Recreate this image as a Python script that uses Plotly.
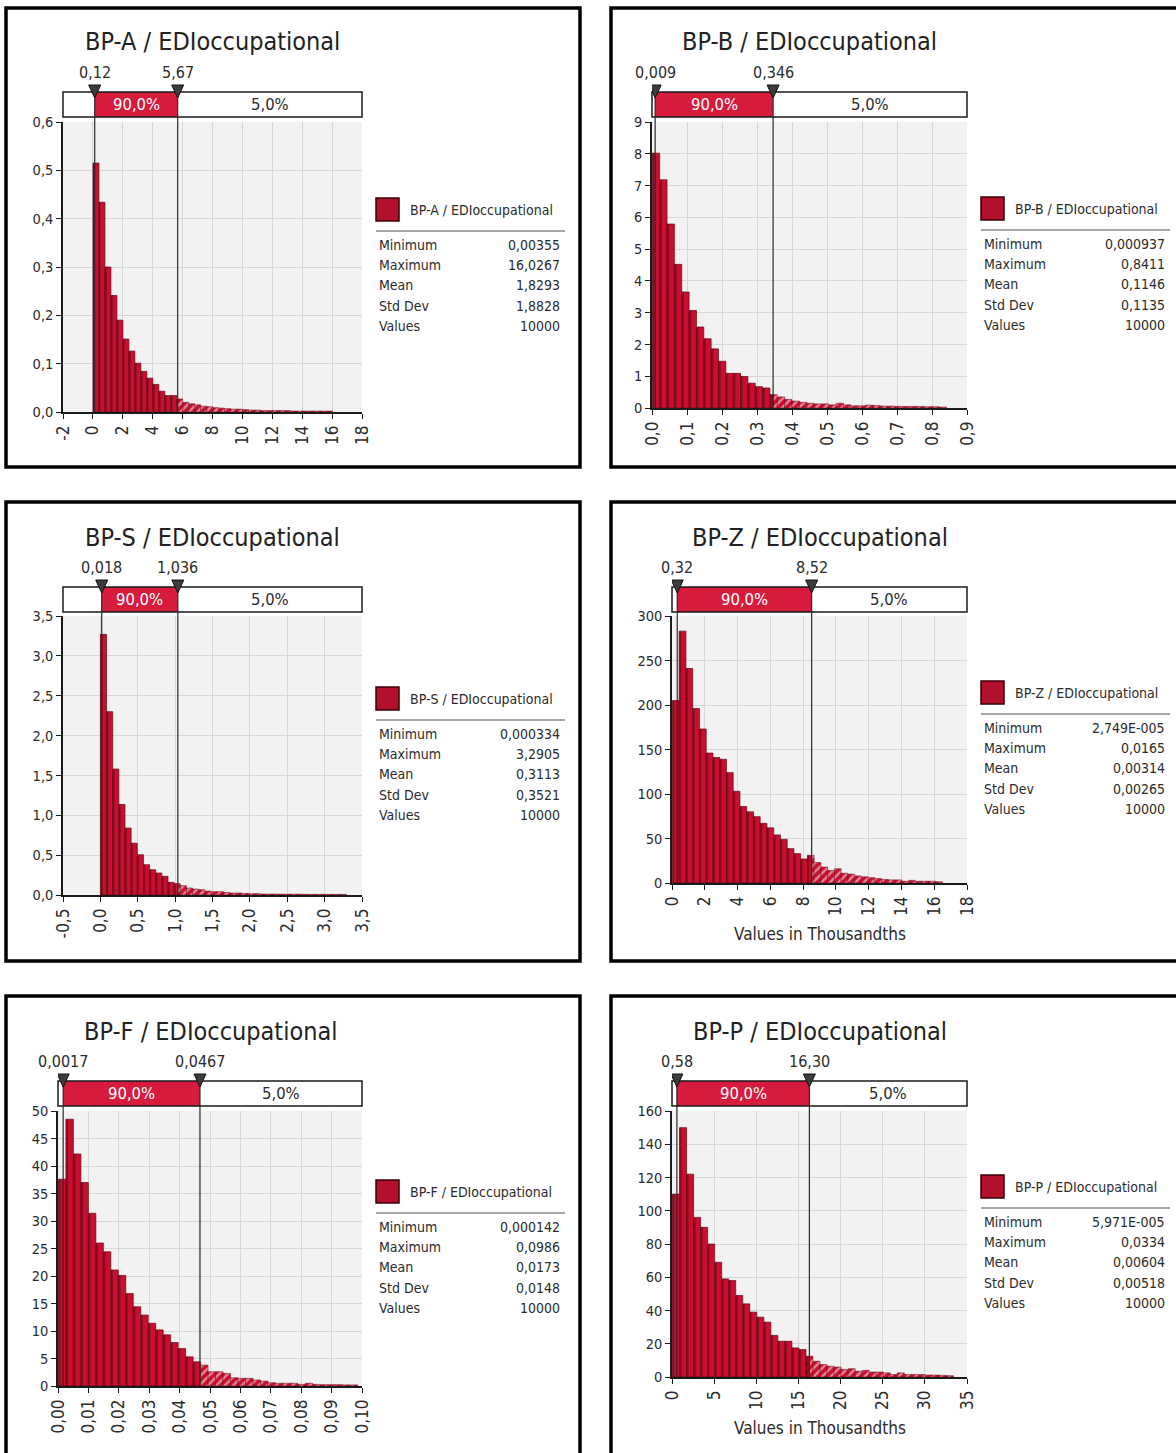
import plotly.graph_objects as go

W, H = 1176, 1453
FONT = "DejaVu Sans Condensed, DejaVu Sans, sans-serif"

# ---------------- data ----------------
series_names = ["BP-A / EDIoccupational", "BP-B / EDIoccupational", "BP-S / EDIoccupational",
                "BP-Z / EDIoccupational", "BP-F / EDIoccupational", "BP-P / EDIoccupational"]

stat_names = ["Minimum", "Maximum", "Mean", "Std Dev", "Values"]

# histogram definition: first bin edge, bin width, bar heights (density)
a_start, a_width = 0.00355, 0.40058
a_heights = [0.515, 0.434, 0.300, 0.241, 0.190, 0.151, 0.126, 0.101, 0.084, 0.070,
             0.057, 0.043, 0.034, 0.034, 0.027, 0.020, 0.017, 0.015, 0.012, 0.011,
             0.009, 0.008, 0.007, 0.006, 0.006, 0.005, 0.004, 0.004, 0.003, 0.003,
             0.003, 0.003, 0.003, 0.002, 0.002, 0.002, 0.002, 0.002, 0.002, 0.002]
a_bounds = [0.12, 5.67]
a_bound_labels = ["0,12", "5,67"]
a_stats = ["0,00355", "16,0267", "1,8293", "1,8828", "10000"]
a_xticks = [-2, 0, 2, 4, 6, 8, 10, 12, 14, 16, 18]
a_xlabels = ["-2", "0", "2", "4", "6", "8", "10", "12", "14", "16", "18"]
a_yticks = [0, 0.1, 0.2, 0.3, 0.4, 0.5, 0.6]
a_ylabels = ["0,0", "0,1", "0,2", "0,3", "0,4", "0,5", "0,6"]

b_start, b_width = 0.000937, 0.021004
b_heights = [8.02, 7.18, 5.79, 4.52, 3.65, 3.07, 2.55, 2.18, 1.86, 1.47,
             1.09, 1.09, 0.99, 0.78, 0.67, 0.63, 0.42, 0.35, 0.27, 0.22,
             0.18, 0.15, 0.13, 0.13, 0.10, 0.15, 0.10, 0.07, 0.07, 0.09,
             0.08, 0.06, 0.06, 0.05, 0.05, 0.05, 0.05, 0.04, 0.04, 0.03]
b_bounds = [0.009, 0.346]
b_bound_labels = ["0,009", "0,346"]
b_stats = ["0,000937", "0,8411", "0,1146", "0,1135", "10000"]
b_xticks = [0, 0.1, 0.2, 0.3, 0.4, 0.5, 0.6, 0.7, 0.8, 0.9]
b_xlabels = ["0,0", "0,1", "0,2", "0,3", "0,4", "0,5", "0,6", "0,7", "0,8", "0,9"]
b_yticks = [0, 1, 2, 3, 4, 5, 6, 7, 8, 9]
b_ylabels = ["0", "1", "2", "3", "4", "5", "6", "7", "8", "9"]

s_start, s_width = 0.000334, 0.082254
s_heights = [3.27, 2.30, 1.58, 1.136, 0.84, 0.65, 0.505, 0.38, 0.317, 0.276,
             0.234, 0.159, 0.142, 0.117, 0.088, 0.075, 0.067, 0.050, 0.042, 0.042,
             0.033, 0.025, 0.025, 0.020, 0.017, 0.017, 0.012, 0.012, 0.012, 0.010,
             0.010, 0.010, 0.010, 0.008, 0.008, 0.008, 0.008, 0.008, 0.008, 0.008]
s_bounds = [0.018, 1.036]
s_bound_labels = ["0,018", "1,036"]
s_stats = ["0,000334", "3,2905", "0,3113", "0,3521", "10000"]
s_xticks = [-0.5, 0, 0.5, 1, 1.5, 2, 2.5, 3, 3.5]
s_xlabels = ["-0,5", "0,0", "0,5", "1,0", "1,5", "2,0", "2,5", "3,0", "3,5"]
s_yticks = [0, 0.5, 1, 1.5, 2, 2.5, 3, 3.5]
s_ylabels = ["0,0", "0,5", "1,0", "1,5", "2,0", "2,5", "3,0", "3,5"]

# BP-Z and BP-P are plotted in thousandths
z_start, z_width = 0.02749, 0.41181
z_heights = [205, 283, 241, 196, 173, 146, 141, 139, 124, 103,
             86, 80, 74.5, 67, 62, 54, 49, 38.6, 33, 27,
             31, 23, 18, 14, 16, 11, 10, 8, 7, 6,
             5, 4, 3.5, 3.5, 2, 3, 2, 2, 2, 1.5]
z_bounds = [0.32, 8.52]
z_bound_labels = ["0,32", "8,52"]
z_stats = ["2,749E-005", "0,0165", "0,00314", "0,00265", "10000"]
z_xticks = [0, 2, 4, 6, 8, 10, 12, 14, 16, 18]
z_xlabels = ["0", "2", "4", "6", "8", "10", "12", "14", "16", "18"]
z_yticks = [0, 50, 100, 150, 200, 250, 300]
z_ylabels = ["0", "50", "100", "150", "200", "250", "300"]

f_start, f_width = 0.000142, 0.0024615
f_heights = [37.6, 48.5, 42.2, 37.0, 31.4, 26.0, 24.4, 21.1, 20.1, 16.8,
             14.4, 12.9, 11.4, 10.2, 9.3, 7.9, 6.8, 5.3, 4.4, 3.8,
             2.6, 2.6, 2.3, 1.5, 1.4, 1.4, 1.1, 0.9, 0.6, 0.5,
             0.5, 0.5, 0.3, 0.5, 0.3, 0.25, 0.25, 0.25, 0.2, 0.2]
f_bounds = [0.0017, 0.0467]
f_bound_labels = ["0,0017", "0,0467"]
f_stats = ["0,000142", "0,0986", "0,0173", "0,0148", "10000"]
f_xticks = [0, 0.01, 0.02, 0.03, 0.04, 0.05, 0.06, 0.07, 0.08, 0.09, 0.10]
f_xlabels = ["0,00", "0,01", "0,02", "0,03", "0,04", "0,05", "0,06", "0,07", "0,08", "0,09", "0,10"]
f_yticks = [0, 5, 10, 15, 20, 25, 30, 35, 40, 45, 50]
f_ylabels = ["0", "5", "10", "15", "20", "25", "30", "35", "40", "45", "50"]

p_start, p_width = 0.05971, 0.83351
p_heights = [110, 150, 122, 96, 90, 80, 69, 59, 58, 49,
             44, 39, 36, 33, 25, 21.5, 21.5, 17.5, 16.5, 12.5,
             9.5, 7.5, 6.5, 6, 4.5, 5, 3.5, 4, 3, 3,
             2.5, 1.5, 2.5, 1.5, 1.5, 1.5, 1.2, 1.2, 1, 0.8]
p_bounds = [0.58, 16.30]
p_bound_labels = ["0,58", "16,30"]
p_stats = ["5,971E-005", "0,0334", "0,00604", "0,00518", "10000"]
p_xticks = [0, 5, 10, 15, 20, 25, 30, 35]
p_xlabels = ["0", "5", "10", "15", "20", "25", "30", "35"]
p_yticks = [0, 20, 40, 60, 80, 100, 120, 140, 160]
p_ylabels = ["0", "20", "40", "60", "80", "100", "120", "140", "160"]

interval_labels = ["90,0%", "5,0%"]
axis_unit_title = "Values in Thousandths"

# ---------------- panel setup ----------------
panels = [
    dict(start=a_start, width=a_width, heights=a_heights, bounds=a_bounds, blabels=a_bound_labels,
         stats=a_stats, xt=a_xticks, xl=a_xlabels, yt=a_yticks, yl=a_ylabels, xr=[-2, 18], yr=[0, 0.6]),
    dict(start=b_start, width=b_width, heights=b_heights, bounds=b_bounds, blabels=b_bound_labels,
         stats=b_stats, xt=b_xticks, xl=b_xlabels, yt=b_yticks, yl=b_ylabels, xr=[0, 0.9], yr=[0, 9]),
    dict(start=s_start, width=s_width, heights=s_heights, bounds=s_bounds, blabels=s_bound_labels,
         stats=s_stats, xt=s_xticks, xl=s_xlabels, yt=s_yticks, yl=s_ylabels, xr=[-0.5, 3.5], yr=[0, 3.5]),
    dict(start=z_start, width=z_width, heights=z_heights, bounds=z_bounds, blabels=z_bound_labels,
         stats=z_stats, xt=z_xticks, xl=z_xlabels, yt=z_yticks, yl=z_ylabels, xr=[0, 18], yr=[0, 300]),
    dict(start=f_start, width=f_width, heights=f_heights, bounds=f_bounds, blabels=f_bound_labels,
         stats=f_stats, xt=f_xticks, xl=f_xlabels, yt=f_yticks, yl=f_ylabels, xr=[0, 0.1], yr=[0, 50]),
    dict(start=p_start, width=p_width, heights=p_heights, bounds=p_bounds, blabels=p_bound_labels,
         stats=p_stats, xt=p_xticks, xl=p_xlabels, yt=p_yticks, yl=p_ylabels, xr=[0, 35], yr=[0, 160]),
]

# pixel layout of each panel: frame box, plot area, interval bar rows, title row, legend top
geom = [
    dict(frame=(6, 8, 580, 467), plot=(63, 122, 362, 412), bar=(92, 117), title=42, leg=198, lx=376, unit=None),
    dict(frame=(611, 8, 1200, 467), plot=(652, 122, 967, 408), bar=(92, 117), title=42, leg=197, lx=981, unit=None),
    dict(frame=(6, 502, 580, 961), plot=(63, 616, 362, 895), bar=(587, 612), title=537, leg=687, lx=376, unit=None),
    dict(frame=(611, 502, 1200, 961), plot=(672, 616, 967, 883), bar=(587, 612), title=537, leg=681, lx=981, unit=934),
    dict(frame=(6, 996, 580, 1480), plot=(58, 1111, 362, 1386), bar=(1081, 1106), title=1031, leg=1180, lx=376, unit=None),
    dict(frame=(611, 996, 1200, 1480), plot=(672, 1111, 967, 1377), bar=(1081, 1106), title=1031, leg=1175, lx=981, unit=1428),
]

RED = "#c80f2f"
DARK = "#6a0616"
BAND_RED = "#d61b3d"
GRID = "#d6d6d6"
TXT = "#2b2b2b"


def px(x):
    return x / W


def py(y):
    return 1 - y / H


fig = go.Figure()
shapes, annotations = [], []
layout_axes = {}

for i, (p, g) in enumerate(zip(panels, geom)):
    n = "" if i == 0 else str(i + 1)
    xa, ya = "x" + n, "y" + n
    lo, hi = p["bounds"]

    # split bins into the solid 90 % part and the hatched upper tail
    sx, sw, sh, hx, hw, hh = [], [], [], [], [], []
    for k, val in enumerate(p["heights"]):
        left = p["start"] + k * p["width"]
        right = left + p["width"]
        if right <= hi:
            sx.append(left); sw.append(p["width"]); sh.append(val)
        elif left >= hi:
            hx.append(left); hw.append(p["width"]); hh.append(val)
        else:
            sx.append(left); sw.append(hi - left); sh.append(val)
            hx.append(hi); hw.append(right - hi); hh.append(val)

    fig.add_trace(go.Bar(x=sx, y=sh, width=sw, offset=0, xaxis=xa, yaxis=ya,
                         marker=dict(color=RED, line=dict(color=DARK, width=0.7)),
                         hoverinfo="skip", showlegend=False))
    # darker left edge of every bar (shaded look)
    fig.add_trace(go.Bar(x=sx, y=sh, width=[min(w, 0.3 * p["width"]) for w in sw], offset=0,
                         xaxis=xa, yaxis=ya, marker=dict(color="rgba(50,0,8,0.35)", line=dict(width=0)),
                         hoverinfo="skip", showlegend=False))
    fig.add_trace(go.Bar(x=hx, y=hh, width=hw, offset=0, xaxis=xa, yaxis=ya,
                         marker=dict(color=RED, line=dict(color=DARK, width=0.5),
                                     pattern=dict(shape="/", fgcolor="white", fillmode="overlay",
                                                  size=6, solidity=0.4)),
                         hoverinfo="skip", showlegend=False))

    x0, y0, x1, y1 = g["plot"]
    common = dict(showline=True, linecolor="#1a1a1a", linewidth=1.5, ticks="outside", ticklen=5,
                  tickcolor="#1a1a1a", showgrid=True, gridcolor=GRID, gridwidth=1, zeroline=False,
                  fixedrange=True, automargin=False)
    layout_axes["xaxis" + n] = dict(domain=[px(x0), px(x1)], range=p["xr"], anchor=ya,
                                    tickmode="array", tickvals=p["xt"], ticktext=p["xl"], tickangle=-90,
                                    tickfont=dict(family=FONT, size=17, color=TXT), **common)
    layout_axes["yaxis" + n] = dict(domain=[py(y1), py(y0)], range=p["yr"], anchor=xa,
                                    tickmode="array", tickvals=p["yt"], ticktext=p["yl"],
                                    tickfont=dict(family=FONT, size=14.5, color=TXT), **common)

    # panel frame
    fx0, fy0, fx1, fy1 = g["frame"]
    shapes.append(dict(type="rect", xref="paper", yref="paper", x0=px(fx0), x1=px(fx1),
                       y0=py(fy1), y1=py(fy0), line=dict(color="black", width=3.5)))

    # interval band above the plot
    bt, bb = g["bar"]
    shapes.append(dict(type="rect", xref=xa + " domain", yref="paper", x0=0, x1=1,
                       y0=py(bb), y1=py(bt), fillcolor="white", line=dict(width=0)))
    shapes.append(dict(type="rect", xref=xa, yref="paper", x0=lo, x1=hi,
                       y0=py(bb), y1=py(bt), fillcolor=BAND_RED, line=dict(width=0)))
    shapes.append(dict(type="rect", xref=xa + " domain", yref="paper", x0=0, x1=1,
                       y0=py(bb), y1=py(bt), line=dict(color="#1a1a1a", width=1.5)))
    for b in (lo, hi):
        shapes.append(dict(type="line", xref=xa, yref="paper", x0=b, x1=b, y0=py(y1), y1=py(bt),
                           line=dict(color="#2a2a2a", width=1.2)))
        shapes.append(dict(type="path", xref=xa, yref="paper", xsizemode="pixel", ysizemode="pixel",
                           xanchor=b, yanchor=py(bt), path="M -6 7 L 6 7 L 0 -6 Z",
                           fillcolor="#3c3c3c", line=dict(color="#111111", width=1)))
    for b, lab in zip((lo, hi), p["blabels"]):
        annotations.append(dict(xref=xa, yref="paper", x=b, y=py(bt - 20), text=lab, showarrow=False,
                                xanchor="center", yanchor="middle",
                                font=dict(family=FONT, size=16, color=TXT)))
    annotations.append(dict(xref=xa, yref="paper", x=(lo + hi) / 2, y=py((bt + bb) / 2),
                            text=interval_labels[0], showarrow=False, xanchor="center", yanchor="middle",
                            font=dict(family=FONT, size=16.5, color="white")))
    annotations.append(dict(xref=xa, yref="paper", x=(hi + p["xr"][1]) / 2, y=py((bt + bb) / 2),
                            text=interval_labels[1], showarrow=False, xanchor="center", yanchor="middle",
                            font=dict(family=FONT, size=16.5, color=TXT)))

    # title
    annotations.append(dict(xref="paper", yref="paper", x=px((x0 + x1) / 2), y=py(g["title"]),
                            text=series_names[i], showarrow=False, xanchor="center", yanchor="middle",
                            font=dict(family=FONT, size=25, color="#222222")))

    if g["unit"]:
        annotations.append(dict(xref="paper", yref="paper", x=px((x0 + x1) / 2), y=py(g["unit"]),
                                text=axis_unit_title, showarrow=False, xanchor="center",
                                yanchor="middle", font=dict(family=FONT, size=17, color=TXT)))

    # legend with summary statistics
    t, lx = g["leg"], g["lx"]
    shapes.append(dict(type="rect", xref="paper", yref="paper", x0=px(lx), x1=px(lx + 23),
                       y0=py(t + 23), y1=py(t), fillcolor="#b3102c", line=dict(color="#3a0008", width=1.5)))
    shapes.append(dict(type="line", xref="paper", yref="paper", x0=px(lx), x1=px(lx + 189),
                       y0=py(t + 33), y1=py(t + 33), line=dict(color="#8a8a8a", width=1.5)))
    annotations.append(dict(xref="paper", yref="paper", x=px(lx + 32), y=py(t + 12),
                            text=series_names[i], showarrow=False, xanchor="left", yanchor="middle",
                            font=dict(family=FONT, size=14, color=TXT)))
    for r, (nm, val) in enumerate(zip(stat_names, p["stats"])):
        yy = t + [47, 67, 87, 108, 128][r]
        annotations.append(dict(xref="paper", yref="paper", x=px(lx + 1), y=py(yy), text=nm,
                                showarrow=False, xanchor="left", yanchor="middle",
                                font=dict(family=FONT, size=14, color=TXT)))
        annotations.append(dict(xref="paper", yref="paper", x=px(lx + 186), y=py(yy), text=val,
                                showarrow=False, xanchor="right", yanchor="middle",
                                font=dict(family=FONT, size=14, color=TXT)))

fig.update_layout(
    width=W, height=H, margin=dict(l=0, r=0, t=0, b=0), template="none",
    paper_bgcolor="white", plot_bgcolor="#f2f2f2", barmode="overlay", showlegend=False,
    shapes=shapes, annotations=annotations, **layout_axes,
)

fig.write_html("out.html")
